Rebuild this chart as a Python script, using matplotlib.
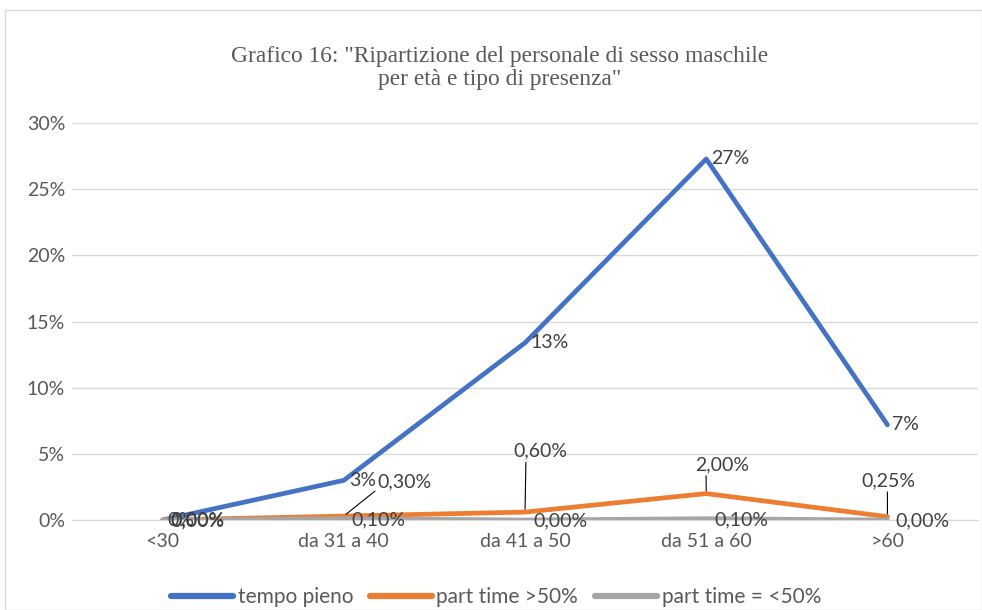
import matplotlib.pyplot as plt
from matplotlib.patches import Rectangle
from matplotlib.ticker import MultipleLocator, FuncFormatter

categories = ["<30", "da 31 a 40", "da 41 a 50", "da 51 a 60", ">60"]
tempo_pieno = [0.0, 0.03, 0.134, 0.273, 0.072]
part_time_over50 = [0.0, 0.003, 0.006, 0.020, 0.0025]
part_time_under50 = [0.0, 0.001, 0.0, 0.001, 0.0]
series_names = ["tempo pieno", "part time >50%", "part time = <50%"]

BLUE = "#4472C4"
ORANGE = "#ED7D31"
GRAY = "#A5A5A5"
TXT = "#404040"
FONT = "Lato"
FS = 14


def pct(v, dec):
    return f"{v * 100:.{dec}f}%".replace(".", ",")


fig = plt.figure(figsize=(9.82, 6.1), dpi=100)
ax = fig.add_axes([0.0733, 0.1475, 0.9227, 0.6505])
fig.patches.append(Rectangle((0.005, 0.0), 0.995, 0.984, transform=fig.transFigure,
                             fill=False, edgecolor="#D9D9D9", lw=1))

x = list(range(len(categories)))
kw = dict(lw=3.4, solid_capstyle="round", solid_joinstyle="round")
ax.plot(x, tempo_pieno, color=BLUE, label=series_names[0], **kw)
ax.plot(x, part_time_over50, color=ORANGE, label=series_names[1], **kw)
ax.plot(x, part_time_under50, color=GRAY, label=series_names[2], **kw)

ax.set_xlim(-0.5, len(categories) - 0.5)
ax.set_ylim(0, 0.30)
ax.yaxis.set_major_locator(MultipleLocator(0.05))
ax.yaxis.set_major_formatter(FuncFormatter(lambda v, p: f"{v * 100:.0f}%"))
ax.set_xticks(x)
ax.set_xticklabels(categories)
ax.tick_params(length=0, labelsize=FS, colors="#595959", pad=5)
ax.tick_params(axis="x", pad=9)
for lab in ax.get_xticklabels() + ax.get_yticklabels():
    lab.set_fontfamily(FONT)
ax.grid(axis="y", color="#D9D9D9", lw=1)
ax.set_axisbelow(True)
for s in ["top", "right", "left"]:
    ax.spines[s].set_visible(False)
ax.spines["bottom"].set_color("#D9D9D9")

lab_kw = dict(fontsize=FS, color=TXT, family=FONT, textcoords="offset pixels")

# blue labels, right of point
for xi, v in zip(x, tempo_pieno):
    ax.annotate(f"{v * 100:.0f}%", (xi, v), xytext=(5, 0), ha="left", va="center", **lab_kw)

# orange labels with leader lines
orange_offsets = [(8, 0), (61, 34), (15, 61), (16, 29), (1, 36)]
orange_relpos = [None, (0.0, 0.1), (0.24, 0.1), (0.2, 0.1), (0.48, 0.1)]
for xi, v, off, rp in zip(x, part_time_over50, orange_offsets, orange_relpos):
    if rp is None:
        ax.annotate(pct(v, 2), (xi, v), xytext=off, ha="left", va="center", **lab_kw)
    else:
        ax.annotate(pct(v, 2), (xi, v), xytext=off, ha="center", va="center",
                    arrowprops=dict(arrowstyle="-", color="black", lw=0.8,
                                    relpos=rp, shrinkA=0, shrinkB=2), **lab_kw)

# gray labels, right of point
for xi, v in zip(x, part_time_under50):
    ax.annotate(pct(v, 2), (xi, v), xytext=(8, -1), ha="left", va="center", **lab_kw)

fig.text(0.509, 0.889, 'Grafico 16: "Ripartizione del personale di sesso maschile\nper età e tipo di presenza"',
         ha="center", va="center", family="Liberation Serif", fontsize=16.8, color="#595959",
         linespacing=1.1)

leg = fig.legend(loc="center", bbox_to_anchor=(0.505, 0.021), ncol=3, frameon=False,
                 handlelength=3.0, columnspacing=0.8, handletextpad=0.2,
                 prop={"family": FONT, "size": 15})
for t in leg.get_texts():
    t.set_color("#595959")
for h in leg.get_lines():
    h.set_linewidth(4.5)

fig.savefig("out.png", dpi=100)
